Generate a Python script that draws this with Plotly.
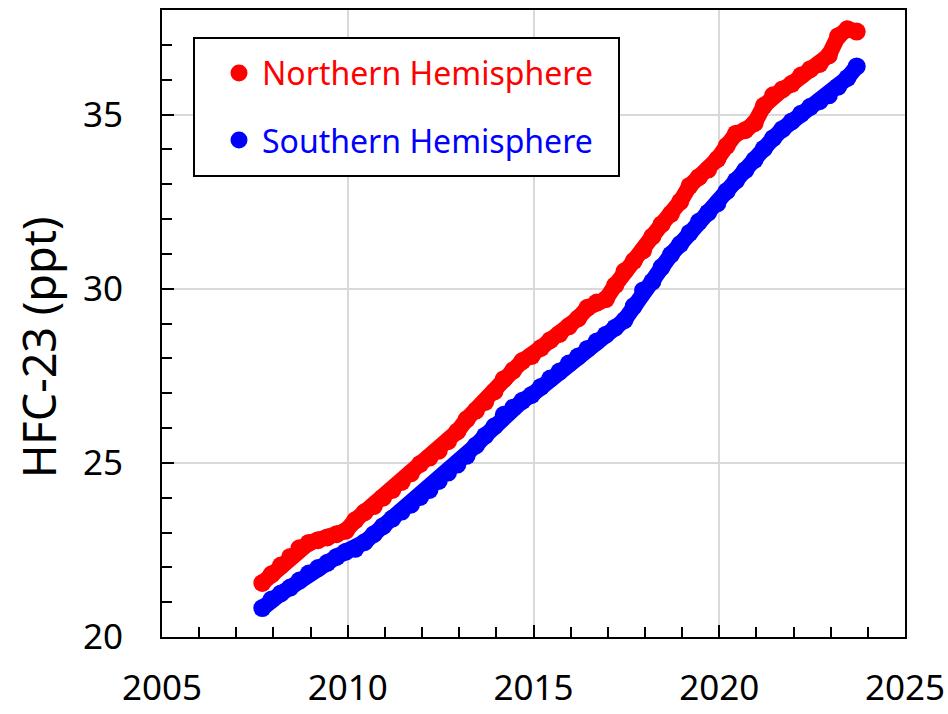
import numpy as np
import plotly.graph_objects as go

# Quarterly sampling times (decimal year), Sep 2007 - Sep 2023
t_start = 2007.70
t_step = 0.25

# HFC-23 mole fractions (ppt)
north = [
    21.55, 21.80, 22.05, 22.30, 22.55, 22.70, 22.78, 22.86, 22.95, 23.05,
    23.35, 23.58, 23.76, 24.00, 24.22, 24.45, 24.70, 24.97, 25.15, 25.35,
    25.62, 25.90, 26.25, 26.50, 26.75, 27.05, 27.40, 27.65, 27.92, 28.07,
    28.30, 28.52, 28.70, 28.92, 29.15, 29.45, 29.60, 29.70, 30.10, 30.50,
    30.80, 31.10, 31.50, 31.85, 32.15, 32.50, 32.95, 33.20, 33.42, 33.72,
    34.10, 34.45, 34.55, 34.75, 35.25, 35.55, 35.72, 35.88, 36.12, 36.30,
    36.45, 36.70, 37.25, 37.45, 37.38,
]
south = [
    20.83, 21.08, 21.25, 21.42, 21.62, 21.82, 21.98, 22.13, 22.30, 22.45,
    22.53, 22.72, 22.95, 23.18, 23.40, 23.60, 23.80, 24.02, 24.22, 24.48,
    24.72, 24.95, 25.20, 25.50, 25.78, 26.05, 26.38, 26.58, 26.78, 26.95,
    27.18, 27.42, 27.62, 27.85, 28.05, 28.27, 28.48, 28.68, 28.88, 29.10,
    29.50, 29.95, 30.20, 30.62, 30.98, 31.28, 31.60, 31.92, 32.18, 32.45,
    32.80, 33.10, 33.40, 33.70, 34.02, 34.32, 34.58, 34.80, 35.02, 35.22,
    35.38, 35.55, 35.80, 36.05, 36.38,
]
series_names = ["Northern Hemisphere", "Southern Hemisphere"]
series_colors = ["#ff0000", "#0000ff"]

x_ticks = [2005, 2010, 2015, 2020, 2025]
y_ticks = [20, 25, 30, 35]
y_title = "HFC-23 (ppt)"

years = t_start + t_step * np.arange(len(north))

FONT = "Noto Sans"

# plot-area geometry in pixels
W, H = 948, 714
ML, MR, MT, MB = 162, 43, 10, 77
PW, PH = W - ML - MR, H - MT - MB


def px(xp):
    return (xp - ML) / PW


def py(yp):
    return (H - MB - yp) / PH


fig = go.Figure()
for vals, col in zip([north, south], series_colors):
    # thick stroke underneath the dots gives the dense, continuous band
    fig.add_trace(go.Scatter(
        x=years, y=vals, mode="lines+markers", showlegend=False,
        line=dict(color=col, width=16, shape="linear"),
        marker=dict(color=col, size=18, line=dict(width=0)),
        hoverinfo="x+y",
    ))

axis_common = dict(
    showline=True, linewidth=2, linecolor="black", mirror=True,
    showgrid=True, gridcolor="#d9d9d9", gridwidth=2, zeroline=False,
    ticks="inside", ticklen=12, tickwidth=2, tickcolor="black",
    tickfont=dict(family=FONT, size=35, color="black"),
    automargin=False,
)

fig.update_xaxes(
    range=[2005, 2025], tickvals=x_ticks, ticktext=[str(v) for v in x_ticks],
    minor=dict(dtick=1, tick0=2005, ticks="inside", ticklen=10, tickwidth=2,
               tickcolor="black", showgrid=False),
    ticklabelstandoff=19,
    **axis_common,
)
fig.update_yaxes(
    range=[20, 38], tickvals=y_ticks, ticktext=[str(v) for v in y_ticks],
    minor=dict(dtick=1, tick0=20, ticks="inside", ticklen=10, tickwidth=2,
               tickcolor="black", showgrid=False),
    ticklabelstandoff=30,
    **axis_common,
)

fig.add_annotation(
    text=y_title, xref="paper", yref="paper",
    x=px(38), y=py(348), xanchor="center", yanchor="middle",
    textangle=-90, showarrow=False,
    font=dict(family=FONT, size=45, color="black"),
)

# legend box with a dot and coloured label per hemisphere
shapes = [dict(type="rect", xref="paper", yref="paper",
               x0=px(194), x1=px(619), y0=py(176), y1=py(38),
               line=dict(color="black", width=2), fillcolor="white", layer="above")]
annotations = []
for i, (name, col) in enumerate(zip(series_names, series_colors)):
    cy = 73 + 67 * i
    r = 8.5
    shapes.append(dict(type="circle", xref="paper", yref="paper",
                       x0=px(239 - r), x1=px(239 + r), y0=py(cy + r), y1=py(cy - r),
                       line=dict(width=0), fillcolor=col, layer="above"))
    annotations.append(dict(text=name, xref="paper", yref="paper",
                            x=px(260), y=py(cy), xanchor="left", yanchor="middle",
                            showarrow=False,
                            font=dict(family=FONT, size=32, color=col)))

for s in shapes:
    fig.add_shape(**s)
for a in annotations:
    fig.add_annotation(**a)

fig.update_layout(
    width=W, height=H, autosize=False,
    margin=dict(l=ML, r=MR, t=MT, b=MB),
    paper_bgcolor="white", plot_bgcolor="white",
    showlegend=False,
)

fig.write_html("out.html")
